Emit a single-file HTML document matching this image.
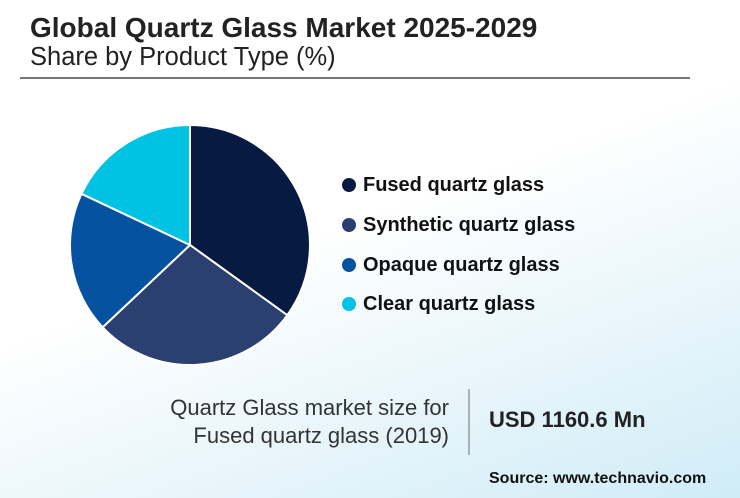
<!DOCTYPE html>
<html><head><style>
html,body{margin:0;padding:0}
body{width:740px;height:498px;position:relative;overflow:hidden;font-family:"Liberation Sans",sans-serif;
background:linear-gradient(160deg,#ffffff 0%,#ffffff 45%,#eaf6fb 70%,#d0ecf7 100%);}
.t{position:absolute;white-space:nowrap}
</style></head><body>
<div class="t" style="left:30px;top:12px;font-size:28px;font-weight:bold;color:#222">Global Quartz Glass Market 2025-2029</div>
<div class="t" style="left:30px;top:43px;font-size:25.5px;color:#222">Share by Product Type (%)</div>
<div style="position:absolute;left:20px;top:77px;width:670px;height:2px;background:#777"></div>
<svg style="position:absolute;left:0;top:0" width="740" height="498">
<g stroke="#fff" stroke-width="2">
<path d="M190,245 L190,125 A120,120 0 0 1 287.3,315.2 Z" fill="#071b42"/>
<path d="M190,245 L287.3,315.2 A120,120 0 0 1 102.6,327.3 Z" fill="#2b3f70"/>
<path d="M190,245 L102.6,327.3 A120,120 0 0 1 81.5,193.8 Z" fill="#0552a0"/>
<path d="M190,245 L81.5,193.8 A120,120 0 0 1 190,125 Z" fill="#00c2e2"/>
</g>
<circle cx="349" cy="185" r="7" fill="#071b42"/>
<circle cx="349" cy="225" r="7" fill="#2b3f70"/>
<circle cx="349" cy="265" r="7" fill="#0552a0"/>
<circle cx="349" cy="304" r="7" fill="#00c2e2"/>
<line x1="469" y1="389" x2="469" y2="455" stroke="#999" stroke-width="1.5"/>
</svg>
<div class="t" style="left:363px;top:174px;font-size:20px;font-weight:bold;color:#111">Fused quartz glass</div>
<div class="t" style="left:363px;top:214px;font-size:20px;font-weight:bold;color:#111">Synthetic quartz glass</div>
<div class="t" style="left:363px;top:254px;font-size:20px;font-weight:bold;color:#111">Opaque quartz glass</div>
<div class="t" style="left:363px;top:293px;font-size:20px;font-weight:bold;color:#111">Clear quartz glass</div>
<div class="t" style="right:291px;top:394px;font-size:22px;color:#333;text-align:right;line-height:28px">Quartz Glass market size for<br>Fused quartz glass (2019)</div>
<div class="t" style="left:489px;top:407px;font-size:22px;font-weight:bold;color:#222">USD 1160.6 Mn</div>
<div class="t" style="left:489px;top:470px;font-size:16px;font-weight:bold;color:#111">Source: www.technavio.com</div>
</body></html>
